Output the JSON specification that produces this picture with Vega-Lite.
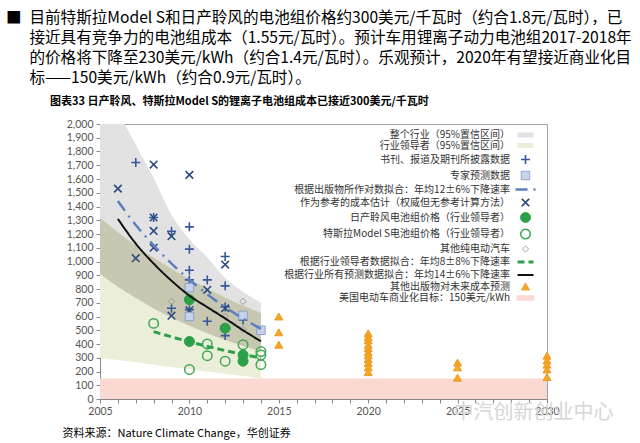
{
  "$schema": "https://vega.github.io/schema/vega-lite/v6.json",
  "width": 447,
  "height": 275,
  "autosize": {"type": "none"},
  "padding": {"left": 100, "top": 124, "right": 93, "bottom": 44},
  "background": "white",
  "title": {
    "text": [
      "■\u2002目前特斯拉Model S和日产聆风的电池组价格约300美元/千瓦时（约合1.8元/瓦时），已",
      "\u200b\u3000\u2002接近具有竞争力的电池组成本（1.55元/瓦时）。预计车用锂离子动力电池组2017-2018年",
      "\u200b\u3000\u2002的价格将下降至230美元/kWh（约合1.4元/瓦时）。乐观预计，2020年有望接近商业化目",
      "\u200b\u3000\u2002标——150美元/kWh（约合0.9元/瓦时）。"
    ],
    "subtitle": "\u200b\u3000\u3000\u3000\u3000图表33  日产聆风、特斯拉Model S的锂离子电池组成本已接近300美元/千瓦时",
    "anchor": "start",
    "frame": "group",
    "dx": -94,
    "offset": 12,
    "font": "Noto Sans CJK SC",
    "fontSize": 15.6,
    "fontWeight": "normal",
    "color": "#000000",
    "lineHeight": 20.3,
    "subtitleFont": "Noto Sans CJK SC",
    "subtitleFontSize": 11,
    "subtitleFontWeight": "bold",
    "subtitleColor": "#000000",
    "subtitlePadding": 9
  },
  "datasets": {
    "bands": [
      {"series": "美国电动车商业化目标：150美元/kWh", "year": 2005, "value": 0, "high": 150},
      {"series": "美国电动车商业化目标：150美元/kWh", "year": 2030, "value": 0, "high": 150},
      {"series": "整个行业（95%置信区间）", "year": 2005, "value": 910, "high": 2430},
      {"series": "整个行业（95%置信区间）", "year": 2006, "value": 817, "high": 2100},
      {"series": "整个行业（95%置信区间）", "year": 2007, "value": 734, "high": 1850},
      {"series": "整个行业（95%置信区间）", "year": 2008, "value": 659, "high": 1608},
      {"series": "整个行业（95%置信区间）", "year": 2009, "value": 592, "high": 1340},
      {"series": "整个行业（95%置信区间）", "year": 2010, "value": 532, "high": 1160},
      {"series": "整个行业（95%置信区间）", "year": 2011, "value": 478, "high": 1030},
      {"series": "整个行业（95%置信区间）", "year": 2012, "value": 429, "high": 880},
      {"series": "整个行业（95%置信区间）", "year": 2013, "value": 385, "high": 780},
      {"series": "整个行业（95%置信区间）", "year": 2014, "value": 346, "high": 700},
      {"series": "行业领导者（95%置信区间）", "year": 2005, "value": 300, "high": 1318},
      {"series": "行业领导者（95%置信区间）", "year": 2006, "value": 283, "high": 1213},
      {"series": "行业领导者（95%置信区间）", "year": 2007, "value": 267, "high": 1117},
      {"series": "行业领导者（95%置信区间）", "year": 2008, "value": 250, "high": 1029},
      {"series": "行业领导者（95%置信区间）", "year": 2009, "value": 233, "high": 947},
      {"series": "行业领导者（95%置信区间）", "year": 2010, "value": 217, "high": 872},
      {"series": "行业领导者（95%置信区间）", "year": 2011, "value": 200, "high": 803},
      {"series": "行业领导者（95%置信区间）", "year": 2012, "value": 183, "high": 739},
      {"series": "行业领导者（95%置信区间）", "year": 2013, "value": 167, "high": 680},
      {"series": "行业领导者（95%置信区间）", "year": 2014, "value": 150, "high": 626}
    ],
    "overlap": [
      {"year": 2005, "value": 910, "high": 1318},
      {"year": 2006, "value": 817, "high": 1213},
      {"year": 2007, "value": 734, "high": 1117},
      {"year": 2008, "value": 659, "high": 1029},
      {"year": 2009, "value": 592, "high": 947},
      {"year": 2010, "value": 532, "high": 872},
      {"year": 2011, "value": 478, "high": 803},
      {"year": 2012, "value": 429, "high": 739},
      {"year": 2013, "value": 385, "high": 680},
      {"year": 2014, "value": 346, "high": 626}
    ],
    "points": [
      {"series": "其他出版物对未来成本预测", "year": 2015, "value": 600},
      {"series": "其他出版物对未来成本预测", "year": 2015, "value": 485},
      {"series": "其他出版物对未来成本预测", "year": 2015, "value": 395},
      {"series": "其他出版物对未来成本预测", "year": 2020, "value": 478},
      {"series": "其他出版物对未来成本预测", "year": 2020, "value": 450},
      {"series": "其他出版物对未来成本预测", "year": 2020, "value": 428},
      {"series": "其他出版物对未来成本预测", "year": 2020, "value": 395},
      {"series": "其他出版物对未来成本预测", "year": 2020, "value": 370},
      {"series": "其他出版物对未来成本预测", "year": 2020, "value": 340},
      {"series": "其他出版物对未来成本预测", "year": 2020, "value": 318},
      {"series": "其他出版物对未来成本预测", "year": 2020, "value": 290},
      {"series": "其他出版物对未来成本预测", "year": 2020, "value": 262},
      {"series": "其他出版物对未来成本预测", "year": 2020, "value": 230},
      {"series": "其他出版物对未来成本预测", "year": 2020, "value": 195},
      {"series": "其他出版物对未来成本预测", "year": 2025, "value": 265},
      {"series": "其他出版物对未来成本预测", "year": 2025, "value": 230},
      {"series": "其他出版物对未来成本预测", "year": 2025, "value": 155},
      {"series": "其他出版物对未来成本预测", "year": 2030, "value": 315},
      {"series": "其他出版物对未来成本预测", "year": 2030, "value": 280},
      {"series": "其他出版物对未来成本预测", "year": 2030, "value": 250},
      {"series": "其他出版物对未来成本预测", "year": 2030, "value": 215},
      {"series": "其他出版物对未来成本预测", "year": 2030, "value": 160},
      {"series": "书刊、报道及期刊所披露数据", "year": 2007, "value": 1720},
      {"series": "书刊、报道及期刊所披露数据", "year": 2008, "value": 1320},
      {"series": "书刊、报道及期刊所披露数据", "year": 2009, "value": 1220},
      {"series": "书刊、报道及期刊所披露数据", "year": 2009, "value": 660},
      {"series": "书刊、报道及期刊所披露数据", "year": 2010, "value": 1252},
      {"series": "书刊、报道及期刊所披露数据", "year": 2010, "value": 1090},
      {"series": "书刊、报道及期刊所披露数据", "year": 2010, "value": 936},
      {"series": "书刊、报道及期刊所披露数据", "year": 2010, "value": 866},
      {"series": "书刊、报道及期刊所披露数据", "year": 2010, "value": 650},
      {"series": "书刊、报道及期刊所披露数据", "year": 2011, "value": 866},
      {"series": "书刊、报道及期刊所披露数据", "year": 2011, "value": 565},
      {"series": "书刊、报道及期刊所披露数据", "year": 2012, "value": 1036},
      {"series": "书刊、报道及期刊所披露数据", "year": 2012, "value": 823},
      {"series": "书刊、报道及期刊所披露数据", "year": 2012, "value": 670},
      {"series": "书刊、报道及期刊所披露数据", "year": 2012, "value": 461},
      {"series": "书刊、报道及期刊所披露数据", "year": 2013, "value": 575},
      {"series": "作为参考的成本估计（权威但无参考计算方法）", "year": 2006, "value": 1530},
      {"series": "作为参考的成本估计（权威但无参考计算方法）", "year": 2007, "value": 1024},
      {"series": "作为参考的成本估计（权威但无参考计算方法）", "year": 2008, "value": 1705},
      {"series": "作为参考的成本估计（权威但无参考计算方法）", "year": 2008, "value": 1320},
      {"series": "作为参考的成本估计（权威但无参考计算方法）", "year": 2008, "value": 1222},
      {"series": "作为参考的成本估计（权威但无参考计算方法）", "year": 2008, "value": 1100},
      {"series": "作为参考的成本估计（权威但无参考计算方法）", "year": 2009, "value": 1184},
      {"series": "作为参考的成本估计（权威但无参考计算方法）", "year": 2009, "value": 606},
      {"series": "作为参考的成本估计（权威但无参考计算方法）", "year": 2010, "value": 1630},
      {"series": "作为参考的成本估计（权威但无参考计算方法）", "year": 2010, "value": 645},
      {"series": "作为参考的成本估计（权威但无参考计算方法）", "year": 2011, "value": 794},
      {"series": "作为参考的成本估计（权威但无参考计算方法）", "year": 2012, "value": 978},
      {"series": "作为参考的成本估计（权威但无参考计算方法）", "year": 2012, "value": 660},
      {"series": "专家预测数据", "year": 2010, "value": 810},
      {"series": "专家预测数据", "year": 2010, "value": 600},
      {"series": "专家预测数据", "year": 2013, "value": 608},
      {"series": "专家预测数据", "year": 2014, "value": 500},
      {"series": "其他纯电动汽车", "year": 2009, "value": 710},
      {"series": "其他纯电动汽车", "year": 2012, "value": 600},
      {"series": "其他纯电动汽车", "year": 2013, "value": 710},
      {"series": "其他纯电动汽车", "year": 2013, "value": 505},
      {"series": "特斯拉Model S电池组价格（行业领导者）", "year": 2008, "value": 550},
      {"series": "特斯拉Model S电池组价格（行业领导者）", "year": 2010, "value": 215},
      {"series": "特斯拉Model S电池组价格（行业领导者）", "year": 2011, "value": 400},
      {"series": "特斯拉Model S电池组价格（行业领导者）", "year": 2011, "value": 315},
      {"series": "特斯拉Model S电池组价格（行业领导者）", "year": 2012, "value": 275},
      {"series": "特斯拉Model S电池组价格（行业领导者）", "year": 2013, "value": 395},
      {"series": "特斯拉Model S电池组价格（行业领导者）", "year": 2014, "value": 345},
      {"series": "特斯拉Model S电池组价格（行业领导者）", "year": 2014, "value": 320},
      {"series": "特斯拉Model S电池组价格（行业领导者）", "year": 2014, "value": 250},
      {"series": "日产聆风电池组价格（行业领导者）", "year": 2010, "value": 722},
      {"series": "日产聆风电池组价格（行业领导者）", "year": 2010, "value": 418},
      {"series": "日产聆风电池组价格（行业领导者）", "year": 2012, "value": 515},
      {"series": "日产聆风电池组价格（行业领导者）", "year": 2013, "value": 320},
      {"series": "日产聆风电池组价格（行业领导者）", "year": 2013, "value": 275}
    ],
    "fits": [
      {"series": "根据出版物所作对数拟合：年均12±6%下降速率", "year": 2006, "value": 1440},
      {"series": "根据出版物所作对数拟合：年均12±6%下降速率", "year": 2007, "value": 1265},
      {"series": "根据出版物所作对数拟合：年均12±6%下降速率", "year": 2008, "value": 1118},
      {"series": "根据出版物所作对数拟合：年均12±6%下降速率", "year": 2009, "value": 985},
      {"series": "根据出版物所作对数拟合：年均12±6%下降速率", "year": 2010, "value": 868},
      {"series": "根据出版物所作对数拟合：年均12±6%下降速率", "year": 2011, "value": 762},
      {"series": "根据出版物所作对数拟合：年均12±6%下降速率", "year": 2012, "value": 668},
      {"series": "根据出版物所作对数拟合：年均12±6%下降速率", "year": 2013, "value": 585},
      {"series": "根据出版物所作对数拟合：年均12±6%下降速率", "year": 2014, "value": 510},
      {"series": "根据行业领导者数据拟合：年均8±8%下降速率", "year": 2008, "value": 490},
      {"series": "根据行业领导者数据拟合：年均8±8%下降速率", "year": 2009, "value": 452},
      {"series": "根据行业领导者数据拟合：年均8±8%下降速率", "year": 2010, "value": 416},
      {"series": "根据行业领导者数据拟合：年均8±8%下降速率", "year": 2011, "value": 383},
      {"series": "根据行业领导者数据拟合：年均8±8%下降速率", "year": 2012, "value": 352},
      {"series": "根据行业领导者数据拟合：年均8±8%下降速率", "year": 2013, "value": 324},
      {"series": "根据行业领导者数据拟合：年均8±8%下降速率", "year": 2014, "value": 298},
      {"series": "根据行业所有预测数据拟合：年均14±6%下降速率", "year": 2006, "value": 1310},
      {"series": "根据行业所有预测数据拟合：年均14±6%下降速率", "year": 2007, "value": 1130},
      {"series": "根据行业所有预测数据拟合：年均14±6%下降速率", "year": 2008, "value": 985},
      {"series": "根据行业所有预测数据拟合：年均14±6%下降速率", "year": 2009, "value": 860},
      {"series": "根据行业所有预测数据拟合：年均14±6%下降速率", "year": 2010, "value": 752},
      {"series": "根据行业所有预测数据拟合：年均14±6%下降速率", "year": 2011, "value": 668},
      {"series": "根据行业所有预测数据拟合：年均14±6%下降速率", "year": 2012, "value": 586},
      {"series": "根据行业所有预测数据拟合：年均14±6%下降速率", "year": 2013, "value": 500},
      {"series": "根据行业所有预测数据拟合：年均14±6%下降速率", "year": 2014, "value": 420}
    ]
  },
  "encoding": {
    "x": {
      "field": "year", "type": "quantitative",
      "title": "资料来源：Nature Climate Change，华创证券",
      "scale": {"domain": [2005, 2030], "nice": false, "zero": false},
      "axis": {
        "values": [2005, 2006, 2007, 2008, 2009, 2010, 2011, 2012, 2013, 2014, 2015, 2016, 2017, 2018, 2019, 2020, 2021, 2022, 2023, 2024, 2025, 2026, 2027, 2028, 2029, 2030],
        "labelExpr": "datum.value % 5 === 0 ? format(datum.value, 'd') : ''",
        "labelOverlap": false,
        "labelFlush": false,
        "titleX": -38,
        "titleY": 34,
        "titleAlign": "left",
        "titleBaseline": "middle",
        "titleFont": "Noto Sans CJK SC",
        "titleFontSize": 11,
        "titleFontWeight": "normal",
        "titleColor": "#000000"
      }
    },
    "y": {
      "field": "value", "type": "quantitative",
      "title": "中汽创新创业中心",
      "scale": {"domain": [0, 2000], "nice": false},
      "axis": {
        "values": [0, 100, 200, 300, 400, 500, 600, 700, 800, 900, 1000, 1100, 1200, 1300, 1400, 1500, 1600, 1700, 1800, 1900, 2000],
        "labelExpr": "format(datum.value, ',')",
        "labelOverlap": false,
        "titleAngle": 0,
        "titleX": 353,
        "titleY": 288,
        "titleAlign": "left",
        "titleBaseline": "middle",
        "titleFont": "Noto Sans CJK SC",
        "titleFontSize": 20,
        "titleFontWeight": "normal",
        "titleColor": "#d6d6d6"
      }
    }
  },
  "layer": [
    {
      "data": {"name": "bands"},
      "mark": {"type": "area", "clip": true, "opacity": 1, "interpolate": "monotone"},
      "encoding": {
        "y2": {"field": "high"},
        "fill": {
          "field": "series", "type": "nominal", "title": null,
          "scale": {
            "domain": ["整个行业（95%置信区间）", "行业领导者（95%置信区间）", "书刊、报道及期刊所披露数据", "专家预测数据", "根据出版物所作对数拟合：年均12±6%下降速率", "作为参考的成本估计（权威但无参考计算方法）", "日产聆风电池组价格（行业领导者）", "特斯拉Model S电池组价格（行业领导者）", "其他纯电动汽车", "根据行业领导者数据拟合：年均8±8%下降速率", "根据行业所有预测数据拟合：年均14±6%下降速率", "其他出版物对未来成本预测", "美国电动车商业化目标：150美元/kWh"],
            "range": ["#e2e2e2", "#ebefd9", "transparent", "#c6d3ea", "transparent", "transparent", "#2ca048", "transparent", "transparent", "transparent", "transparent", "#f6a628", "#fad9d2"]
          }
        }
      }
    },
    {
      "data": {"name": "overlap"},
      "mark": {"type": "area", "clip": true, "fill": "#c8c7b2", "opacity": 1, "interpolate": "monotone"},
      "encoding": {
        "y2": {"field": "high"}
      }
    },
    {
      "data": {"name": "points"},
      "mark": {"type": "point", "opacity": 1},
      "encoding": {
        "fill": {
          "field": "series", "type": "nominal", "title": null,
          "scale": {
            "domain": ["整个行业（95%置信区间）", "行业领导者（95%置信区间）", "书刊、报道及期刊所披露数据", "专家预测数据", "根据出版物所作对数拟合：年均12±6%下降速率", "作为参考的成本估计（权威但无参考计算方法）", "日产聆风电池组价格（行业领导者）", "特斯拉Model S电池组价格（行业领导者）", "其他纯电动汽车", "根据行业领导者数据拟合：年均8±8%下降速率", "根据行业所有预测数据拟合：年均14±6%下降速率", "其他出版物对未来成本预测", "美国电动车商业化目标：150美元/kWh"],
            "range": ["#e2e2e2", "#ebefd9", "transparent", "#c6d3ea", "transparent", "transparent", "#2ca048", "transparent", "transparent", "transparent", "transparent", "#f6a628", "#fad9d2"]
          }
        },
        "stroke": {
          "field": "series", "type": "nominal", "title": null,
          "scale": {
            "domain": ["整个行业（95%置信区间）", "行业领导者（95%置信区间）", "书刊、报道及期刊所披露数据", "专家预测数据", "根据出版物所作对数拟合：年均12±6%下降速率", "作为参考的成本估计（权威但无参考计算方法）", "日产聆风电池组价格（行业领导者）", "特斯拉Model S电池组价格（行业领导者）", "其他纯电动汽车", "根据行业领导者数据拟合：年均8±8%下降速率", "根据行业所有预测数据拟合：年均14±6%下降速率", "其他出版物对未来成本预测", "美国电动车商业化目标：150美元/kWh"],
            "range": ["transparent", "transparent", "#34599a", "#8aa2cc", "#5b80bd", "#2b4a80", "#2ca048", "#3fa654", "#9a9a9a", "#2ca048", "#111111", "#eb9a1e", "transparent"]
          }
        },
        "shape": {
          "field": "series", "type": "nominal", "title": null,
          "scale": {
            "domain": ["整个行业（95%置信区间）", "行业领导者（95%置信区间）", "书刊、报道及期刊所披露数据", "专家预测数据", "根据出版物所作对数拟合：年均12±6%下降速率", "作为参考的成本估计（权威但无参考计算方法）", "日产聆风电池组价格（行业领导者）", "特斯拉Model S电池组价格（行业领导者）", "其他纯电动汽车", "根据行业领导者数据拟合：年均8±8%下降速率", "根据行业所有预测数据拟合：年均14±6%下降速率", "其他出版物对未来成本预测", "美国电动车商业化目标：150美元/kWh"],
            "range": ["M-1.6,-0.5H1.6V0.5H-1.6Z", "M-1.6,-0.5H1.6V0.5H-1.6Z", "M-1,0H1M0,-1V1", "square", "M-2,0H2", "M-0.8,-0.8L0.8,0.8M-0.8,0.8L0.8,-0.8", "circle", "circle", "diamond", "M-1.6,0H1.6", "M-1.6,0H1.6", "triangle-up", "M-1.8,-0.55H1.8V0.55H-1.8Z"]
          }
        },
        "size": {
          "field": "series", "type": "nominal", "title": null,
          "scale": {
            "type": "ordinal",
            "domain": ["整个行业（95%置信区间）", "行业领导者（95%置信区间）", "书刊、报道及期刊所披露数据", "专家预测数据", "根据出版物所作对数拟合：年均12±6%下降速率", "作为参考的成本估计（权威但无参考计算方法）", "日产聆风电池组价格（行业领导者）", "特斯拉Model S电池组价格（行业领导者）", "其他纯电动汽车", "根据行业领导者数据拟合：年均8±8%下降速率", "根据行业所有预测数据拟合：年均14±6%下降速率", "其他出版物对未来成本预测", "美国电动车商业化目标：150美元/kWh"],
            "range": [100, 100, 81, 72, 100, 90, 100, 90, 40, 100, 100, 64, 100]
          }
        },
        "strokeWidth": {
          "field": "series", "type": "nominal", "title": null,
          "scale": {
            "type": "ordinal",
            "domain": ["整个行业（95%置信区间）", "行业领导者（95%置信区间）", "书刊、报道及期刊所披露数据", "专家预测数据", "根据出版物所作对数拟合：年均12±6%下降速率", "作为参考的成本估计（权威但无参考计算方法）", "日产聆风电池组价格（行业领导者）", "特斯拉Model S电池组价格（行业领导者）", "其他纯电动汽车", "根据行业领导者数据拟合：年均8±8%下降速率", "根据行业所有预测数据拟合：年均14±6%下降速率", "其他出版物对未来成本预测", "美国电动车商业化目标：150美元/kWh"],
            "range": [0, 0, 1.6, 1, 2.5, 1.6, 1, 1.5, 1, 3, 2, 1, 0]
          }
        }
      }
    },
    {
      "data": {"name": "fits"},
      "mark": {"type": "line", "interpolate": "monotone", "opacity": 1},
      "encoding": {
        "stroke": {
          "field": "series", "type": "nominal", "title": null,
          "scale": {
            "domain": ["整个行业（95%置信区间）", "行业领导者（95%置信区间）", "书刊、报道及期刊所披露数据", "专家预测数据", "根据出版物所作对数拟合：年均12±6%下降速率", "作为参考的成本估计（权威但无参考计算方法）", "日产聆风电池组价格（行业领导者）", "特斯拉Model S电池组价格（行业领导者）", "其他纯电动汽车", "根据行业领导者数据拟合：年均8±8%下降速率", "根据行业所有预测数据拟合：年均14±6%下降速率", "其他出版物对未来成本预测", "美国电动车商业化目标：150美元/kWh"],
            "range": ["transparent", "transparent", "#34599a", "#8aa2cc", "#5b80bd", "#2b4a80", "#2ca048", "#3fa654", "#9a9a9a", "#2ca048", "#111111", "#eb9a1e", "transparent"]
          }
        },
        "strokeWidth": {
          "field": "series", "type": "nominal", "title": null,
          "scale": {
            "type": "ordinal",
            "domain": ["整个行业（95%置信区间）", "行业领导者（95%置信区间）", "书刊、报道及期刊所披露数据", "专家预测数据", "根据出版物所作对数拟合：年均12±6%下降速率", "作为参考的成本估计（权威但无参考计算方法）", "日产聆风电池组价格（行业领导者）", "特斯拉Model S电池组价格（行业领导者）", "其他纯电动汽车", "根据行业领导者数据拟合：年均8±8%下降速率", "根据行业所有预测数据拟合：年均14±6%下降速率", "其他出版物对未来成本预测", "美国电动车商业化目标：150美元/kWh"],
            "range": [0, 0, 1.6, 1, 2.5, 1.6, 1, 1.5, 1, 3, 2, 1, 0]
          }
        },
        "strokeDash": {
          "field": "series", "type": "nominal", "title": null,
          "scale": {
            "domain": ["整个行业（95%置信区间）", "行业领导者（95%置信区间）", "书刊、报道及期刊所披露数据", "专家预测数据", "根据出版物所作对数拟合：年均12±6%下降速率", "作为参考的成本估计（权威但无参考计算方法）", "日产聆风电池组价格（行业领导者）", "特斯拉Model S电池组价格（行业领导者）", "其他纯电动汽车", "根据行业领导者数据拟合：年均8±8%下降速率", "根据行业所有预测数据拟合：年均14±6%下降速率", "其他出版物对未来成本预测", "美国电动车商业化目标：150美元/kWh"],
            "range": [[1, 0], [1, 0], [1, 0], [1, 0], [12, 6, 2, 6], [1, 0], [1, 0], [1, 0], [1, 0], [7, 4], [1, 0], [1, 0], [1, 0]]
          }
        }
      }
    }
  ],
  "config": {
    "font": "Lato",
    "view": {"stroke": "#a0a0a0", "strokeWidth": 1},
    "axis": {
      "labelFont": "Lato",
      "labelFontSize": 10.5,
      "labelColor": "#555555",
      "tickColor": "#888888",
      "domainColor": "#888888",
      "tickSize": 4,
      "grid": false,
      "labelPadding": 3
    },
    "legend": {
      "orient": "top-right",
      "offset": 6,
      "padding": 0,
      "labelFont": "Noto Sans CJK SC",
      "labelFontSize": 10,
      "labelColor": "#333333",
      "labelAlign": "right",
      "labelOffset": -22,
      "labelLimit": 400,
      "rowPadding": 0.5,
      "symbolFillColor": "transparent",
      "symbolStrokeColor": "#000000"
    }
  }
}
